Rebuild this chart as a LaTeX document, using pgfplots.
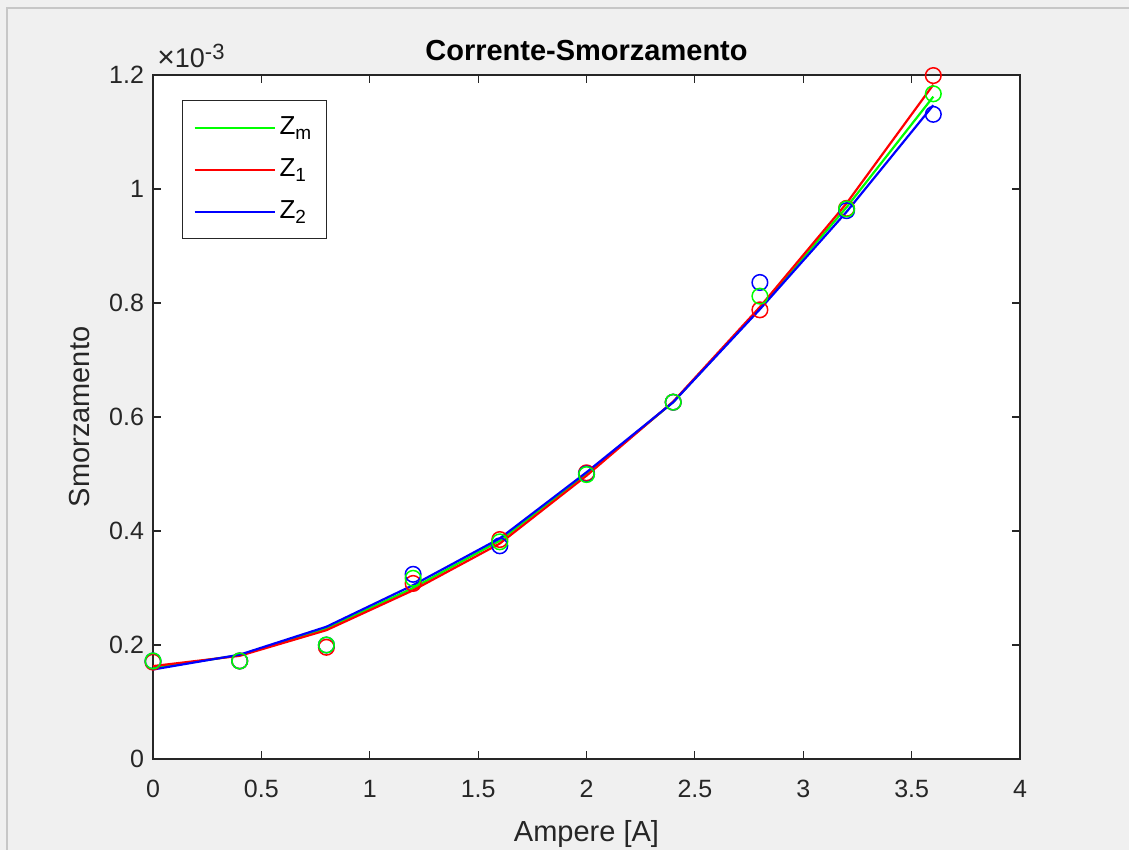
\documentclass[border=0pt]{standalone}
\usepackage{fontspec}
\setmainfont{Liberation Sans}
\usepackage{pgfplots}
\pgfplotsset{compat=1.18}
\definecolor{figbg}{RGB}{240,240,240}
\definecolor{axcol}{RGB}{38,38,38}
\definecolor{mg}{RGB}{0,255,0}
\definecolor{mr}{RGB}{255,0,0}
\definecolor{mb}{RGB}{0,0,255}
\pgfplotstableread{
x zm z1 z2
0.0 0.160 0.163 0.157
0.4 0.182 0.181 0.183
0.8 0.229 0.226 0.232
1.2 0.300 0.296 0.305
1.6 0.383 0.378 0.387
2.0 0.500 0.497 0.503
2.4 0.626 0.627 0.626
2.8 0.791 0.793 0.789
3.2 0.968 0.975 0.960
3.6 1.162 1.183 1.147
}\fitdata
\pgfplotstableread{
x zm z1 z2
0.0 0.172 0.170 0.172
0.4 0.172 0.172 0.172
0.8 0.200 0.196 0.200
1.2 0.317 0.308 0.324
1.6 0.381 0.385 0.374
2.0 0.499 0.502 0.500
2.4 0.626 0.626 0.626
2.8 0.812 0.788 0.836
3.2 0.965 0.966 0.962
3.6 1.167 1.199 1.131
}\measdata
\newcommand{\sub}[1]{\raisebox{-2.6pt}{\fontsize{9.5}{10}\selectfont #1}}
\begin{document}
\begin{tikzpicture}[x=1pt,y=1pt]
\path[use as bounding box, fill=figbg] (0,0) rectangle (564.5,425);
\draw[black!22, line width=0.6pt] (3.5,0) -- (3.5,421) -- (564.5,421);
\begin{axis}[
  name=ax,
  at={(76.5pt,45.5pt)}, anchor=south west,
  scale only axis, width=433.5pt, height=342pt,
  xmin=0, xmax=4, ymin=0, ymax=1.2,
  xtick={0,0.5,1,1.5,2,2.5,3,3.5,4},
  ytick={0,0.2,0.4,0.6,0.8,1,1.2},
  axis background/.style={fill=white},
  axis line style={axcol, line width=0.6pt},
  tick style={axcol, line width=0.6pt},
  major tick length=4pt,
  tick align=inside,
  tick label style={font=\fontsize{12.5}{14}\selectfont, text=axcol},
  /pgf/number format/assume math mode=true,
  xticklabel style={yshift=-7pt},
  yticklabel style={xshift=-1pt},
  title={\bfseries Corrente-Smorzamento},
  title style={font=\fontsize{14.5}{16}\selectfont, at={(0.5,1)}, anchor=south, yshift=-2.5pt},
  xlabel={Ampere [A]},
  ylabel={Smorzamento},
  label style={font=\fontsize{14.5}{16}\selectfont, text=axcol},
  xlabel style={yshift=-4.5pt},
  ylabel style={yshift=3pt},
  legend style={at={(0.0334,0.9635)}, anchor=north west,
    draw=axcol, line width=0.6pt, fill=white,
    font=\fontsize{13}{14}\selectfont,
    inner xsep=5.5pt, inner ysep=4pt, row sep=2pt,
    nodes={text height=11pt, text depth=4pt}},
  legend cell align=left,
  legend image code/.code={\draw[line width=1pt,#1] (0pt,0pt) -- (40pt,0pt);},
]
\addlegendimage{draw=mg}
\addlegendentry{Z\sub{m}}
\addlegendimage{draw=mr}
\addlegendentry{Z\sub{1}}
\addlegendimage{draw=mb}
\addlegendentry{Z\sub{2}}
\addplot[draw=mg, line width=1.1pt, forget plot] table[x=x, y=zm] {\fitdata};
\addplot[draw=mr, line width=1.1pt, forget plot] table[x=x, y=z1] {\fitdata};
\addplot[draw=mb, line width=1.1pt, forget plot] table[x=x, y=z2] {\fitdata};
\addplot[only marks, mark=o, mark size=3.9pt, mr, mark options={line width=0.75pt}, forget plot] table[x=x, y=z1] {\measdata};
\addplot[only marks, mark=o, mark size=3.9pt, mb, mark options={line width=0.75pt}, forget plot] table[x=x, y=z2] {\measdata};
\addplot[only marks, mark=o, mark size=3.9pt, mg, mark options={line width=0.75pt}, forget plot] table[x=x, y=zm] {\measdata};
\end{axis}
\node[anchor=base west, font=\fontsize{13.5}{15}\selectfont, text=axcol, inner sep=0pt] at ([xshift=2pt, yshift=3.5pt]ax.north west) {{\fontsize{15}{15}\selectfont ×}10\raisebox{4pt}{\fontsize{11}{11}\selectfont -3}};
\end{tikzpicture}
\end{document}
